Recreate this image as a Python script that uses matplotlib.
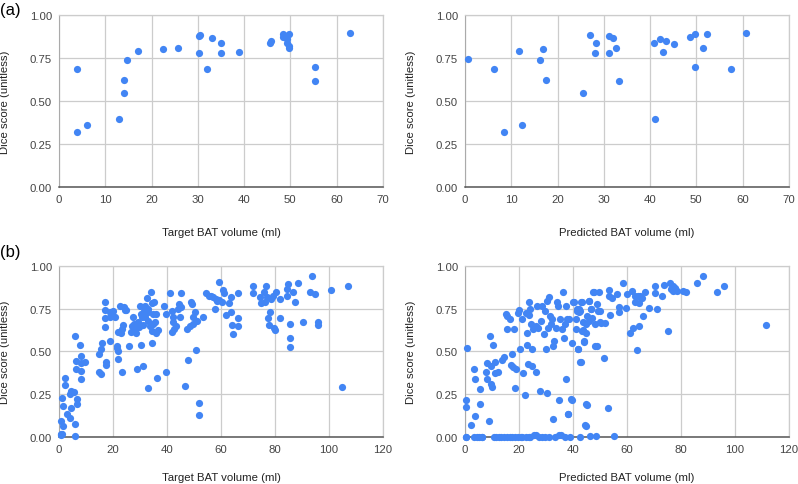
import numpy as np
import matplotlib
matplotlib.use('Agg')
import matplotlib.pyplot as plt

# (a) 31 cases
target_vol_a = [3.8, 3.8, 6.0, 13.0, 14.1, 14.1, 14.7, 17.0, 22.4, 25.7, 30.2, 30.4, 30.2,
                31.9, 33.1, 35.1, 35.1, 39.0, 45.6, 45.9, 48.5, 48.5, 49.0, 49.3, 49.7,
                49.3, 49.6, 49.8, 55.4, 55.4, 62.9]
target_dice_a = [0.685, 0.32, 0.36, 0.395, 0.62, 0.55, 0.74, 0.79, 0.805, 0.81, 0.876, 0.884,
                 0.78, 0.687, 0.865, 0.84, 0.78, 0.787, 0.836, 0.851, 0.89, 0.874, 0.88, 0.86,
                 0.89, 0.836, 0.82, 0.81, 0.696, 0.617, 0.894]

pred_vol_a = [0.7, 6.2, 8.4, 11.7, 12.3, 16.2, 16.8, 17.5, 25.5, 27.0, 28.1, 28.3, 31.1, 31.2,
              32.0, 32.7, 33.2, 40.9, 41.1, 42.2, 42.8, 43.5, 45.1, 48.7, 49.6, 49.8, 51.5,
              52.3, 57.4, 60.8]
pred_dice_a = [0.747, 0.685, 0.32, 0.79, 0.36, 0.74, 0.805, 0.62, 0.55, 0.884, 0.78, 0.84, 0.78,
               0.876, 0.865, 0.81, 0.617, 0.836, 0.395, 0.86, 0.787, 0.851, 0.832, 0.874, 0.696,
               0.89, 0.81, 0.89, 0.687, 0.894]

# (b) target volume vs dice
target_vol_b = [
    0.6, 0.6, 0.7, 1.0, 1.3, 1.5, 1.5, 2.4, 2.4, 2.8, 4.0, 4.0, 4.4, 4.6, 5.5, 5.9, 5.9, 5.9,
    6.3, 6.3, 6.5, 6.5, 7.8, 8.0, 8.0, 8.0, 8.0, 9.6,
    14.8, 15.4, 15.9, 15.0, 15.6, 17.0, 17.0, 17.0, 17.0, 17.4, 17.4, 18.8, 18.9, 19.8, 20.7,
    21.4, 21.6, 22.0, 21.7, 21.9, 22.6, 23.2, 23.6, 23.2, 24.1, 24.8, 25.9, 26.9, 27.3, 27.9,
    28.1, 28.8, 29.1, 30.0, 30.2, 30.9, 31.2, 31.6, 31.9, 32.5, 33.1, 33.1, 34.0, 33.7, 34.3,
    34.3, 34.9, 35.3, 35.6, 36.4, 36.5, 38.9,
    28.5, 29.5, 30.5, 32.0, 33.0, 34.5, 35.0, 36.0, 26.5, 31.0, 32.8, 35.8, 19.0, 23.0, 24.5, 20.0,
    39.5, 39.6, 41.1, 41.7, 42.1, 42.3, 42.6, 42.0, 43.2, 44.2, 44.6, 44.8, 45.1, 45.1, 46.7,
    47.5, 47.9, 48.5, 48.8, 49.1, 49.5, 49.7, 50.4, 50.7, 51.0, 51.7, 51.7, 53.2,
    54.5, 55.4, 56.3, 57.2, 57.9, 58.2, 58.5, 59.1, 59.4, 60.4, 60.9, 61.2, 61.8, 62.8, 63.7,
    63.9, 64.1, 64.6, 66.2, 66.3, 66.3, 71.9, 71.9, 74.4, 74.9, 76.0, 76.4, 76.6, 77.2, 77.6,
    77.8, 78.0, 78.5, 79.3, 79.7, 80.1, 80.3, 81.8, 81.8, 84.3, 84.4, 84.9, 85.5, 85.5, 85.5,
    86.5, 87.3, 88.7, 90.2, 92.9, 93.6, 94.8, 95.8, 95.9, 100.6, 104.7, 106.9]
target_dice_b = [
    0.097, 0.02, 0.016, 0.02, 0.227, 0.18, 0.068, 0.344, 0.307, 0.136, 0.113, 0.252, 0.272,
    0.169, 0.266, 0.078, 0.01, 0.592, 0.447, 0.398, 0.223, 0.194, 0.538, 0.476, 0.433, 0.388,
    0.34, 0.441,
    0.485, 0.515, 0.548, 0.379, 0.369, 0.786, 0.744, 0.695, 0.641, 0.441, 0.421, 0.728, 0.563,
    0.718, 0.699, 0.534, 0.518, 0.505, 0.616, 0.456, 0.767, 0.631, 0.654, 0.379, 0.757, 0.744,
    0.530, 0.650, 0.699, 0.660, 0.631, 0.400, 0.670, 0.767, 0.538, 0.699, 0.417, 0.738, 0.767,
    0.810, 0.728, 0.285, 0.845, 0.650, 0.621, 0.550, 0.718, 0.790, 0.674, 0.344, 0.627, 0.767,
    0.61, 0.64, 0.72, 0.70, 0.75, 0.78, 0.66, 0.72, 0.615, 0.655, 0.68, 0.61, 0.70, 0.605, 0.74,
    0.735,
    0.718, 0.379, 0.839, 0.738, 0.699, 0.670, 0.631, 0.616, 0.650, 0.748, 0.777, 0.699, 0.839,
    0.757, 0.297, 0.631, 0.449, 0.650, 0.786, 0.777, 0.660, 0.699, 0.732, 0.511, 0.680, 0.200,
    0.130, 0.699,
    0.840, 0.824, 0.821, 0.815, 0.750, 0.805, 0.795, 0.903, 0.799, 0.789, 0.860, 0.840, 0.711,
    0.780, 0.815, 0.731, 0.653, 0.604, 0.840, 0.698, 0.649, 0.883, 0.840, 0.815, 0.780, 0.848,
    0.789, 0.879, 0.815, 0.698, 0.653, 0.731, 0.805, 0.821, 0.639, 0.626, 0.848, 0.805, 0.698,
    0.867, 0.825, 0.893, 0.659, 0.581, 0.528, 0.848, 0.786, 0.899, 0.673, 0.848, 0.942, 0.834,
    0.669, 0.653, 0.860, 0.292, 0.883]

# (b) predicted volume vs dice
pred_vol_b = [
    # cases with dice ~0
    0.2, 0.5, 3.3, 4.6, 5.2, 6.2, 6.4, 10.7, 11.5, 12.5, 13.5, 14.5, 15.5, 16.5, 17.5, 18.5,
    19.5, 20.6, 21.0, 22.5, 23.6, 24.0, 25.6, 26.3, 27.5, 28.5, 29.5, 31.0, 33.5, 34.8, 35.4,
    37.0, 39.0, 42.5, 46.4, 48.5, 55.1,
    0.6, 0.5, 0.5, 2.3, 3.3, 3.6, 3.6, 5.6, 5.6, 7.7, 8.0, 8.3, 8.9, 9.3, 9.5, 9.8, 10.1, 10.5,
    11.0, 11.2, 12.2, 13.8, 14.4, 15.1, 15.4, 15.4, 16.7, 17.2, 17.5, 17.9, 18.1, 18.4, 18.8,
    19.6, 20.0, 20.2, 21.2, 21.6, 22.2, 22.5, 22.8, 23.1, 23.3, 23.7, 23.7, 24.1, 24.3, 24.7,
    24.9, 25.3, 26.2, 26.2, 26.5, 27.0, 27.8, 28.0, 28.6, 29.3, 29.6, 29.9, 30.5, 30.5, 30.7,
    31.1, 31.4, 31.7, 32.3, 32.7, 32.7, 33.0, 33.6, 34.0, 34.4, 34.8, 35.2, 36.0, 36.4, 36.7,
    36.9, 37.3, 37.3, 37.7, 38.3, 38.5, 39.5, 39.5, 40.1, 41.0, 41.2, 41.6, 42.0, 42.5, 42.8,
    43.5, 43.8, 44.1, 44.7, 45.1, 44.7, 45.9, 46.5, 47.5,
    38.2, 39.3, 40.3, 41.5, 41.9, 42.1, 42.4, 42.6, 43.1, 43.4, 43.6, 44.0, 44.3, 44.8, 44.9,
    45.2, 45.8, 46.1, 46.8, 47.1, 47.7, 48.0, 48.3, 48.9, 48.9, 49.3, 49.5, 49.9, 50.1, 50.5,
    51.4, 51.7, 53.0, 53.2, 53.5, 53.8, 54.4, 56.3, 56.9, 57.2, 58.4, 59.6, 60.0, 61.2, 61.8,
    62.4, 62.8, 63.1, 63.7, 64.0, 64.3, 64.5, 64.9, 65.5, 65.8, 66.8, 68.2, 70.5, 70.5, 71.1,
    72.9, 73.8, 75.1, 76.0, 76.4, 76.9, 77.2, 77.8,
    77.9, 78.5, 80.6, 81.8, 85.9, 88.3, 93.5, 96.1, 111.4]
pred_dice_b = [
    0.0, 0.0, 0.0, 0.0, 0.0, 0.0, 0.0, 0.0, 0.0, 0.0, 0.0, 0.0, 0.0, 0.0, 0.0, 0.0,
    0.0, 0.0, 0.0, 0.0, 0.0, 0.0, 0.016, 0.012, 0.0, 0.0, 0.0, 0.0, 0.0, 0.012, 0.016,
    0.0, 0.0, 0.0, 0.01, 0.01, 0.01,
    0.522, 0.220, 0.177, 0.074, 0.396, 0.341, 0.127, 0.283, 0.195, 0.380, 0.435, 0.337, 0.094,
    0.591, 0.415, 0.308, 0.294, 0.536, 0.439, 0.372, 0.380, 0.450, 0.470, 0.717, 0.704, 0.634,
    0.692, 0.419, 0.483, 0.411, 0.634, 0.289, 0.400, 0.723, 0.743, 0.513, 0.688, 0.376, 0.244,
    0.727, 0.536, 0.610, 0.425, 0.786, 0.715, 0.747, 0.659, 0.415, 0.513, 0.630, 0.649, 0.380,
    0.766, 0.639, 0.269, 0.678, 0.766, 0.600, 0.737, 0.513, 0.259, 0.795, 0.639, 0.815, 0.704,
    0.659, 0.688, 0.532, 0.107, 0.561, 0.639, 0.786, 0.766, 0.216, 0.688, 0.630, 0.848, 0.581,
    0.659, 0.766, 0.337, 0.692, 0.133, 0.688, 0.548, 0.216, 0.789, 0.630, 0.692, 0.747, 0.513,
    0.737, 0.439, 0.786, 0.626, 0.556, 0.610, 0.191, 0.064, 0.795, 0.747, 0.844,
    0.136, 0.223, 0.790, 0.738, 0.515, 0.748, 0.728, 0.441, 0.790, 0.621, 0.670, 0.563, 0.072,
    0.194, 0.660, 0.709, 0.796, 0.680, 0.748, 0.693, 0.845, 0.660, 0.534, 0.530, 0.777, 0.738,
    0.845, 0.670, 0.738, 0.666, 0.460, 0.666, 0.169, 0.858, 0.825, 0.713, 0.810, 0.835, 0.757,
    0.732, 0.899, 0.751, 0.835, 0.608, 0.854, 0.635, 0.790, 0.825, 0.511, 0.825, 0.782, 0.650,
    0.821, 0.810, 0.705, 0.849, 0.751, 0.880, 0.839, 0.748, 0.825, 0.887, 0.621, 0.899, 0.864,
    0.883, 0.854, 0.868,
    0.864, 0.854, 0.854, 0.849, 0.899, 0.942, 0.849, 0.883, 0.654]

POINT_COLOR = '#4285F4'
GRID_COLOR = '#cccccc'

plt.rcParams['font.family'] = ['Liberation Sans', 'DejaVu Sans']


def style_panel(ax, x, y, xmax, xstep, xlabel, xlabel_y):
    ax.scatter(x, y, s=27, color=POINT_COLOR, linewidths=0, zorder=3, clip_on=False)
    ax.set_xlim(0, xmax)
    ax.set_ylim(0, 1)
    ax.set_xticks(np.arange(0, xmax + 1, xstep))
    ax.set_yticks([0, 0.25, 0.5, 0.75, 1.0])
    ax.set_yticklabels(['0.00', '0.25', '0.50', '0.75', '1.00'])
    ax.grid(True, color=GRID_COLOR, linewidth=0.9)
    ax.set_axisbelow(True)
    ax.tick_params(length=0, labelsize=8.2, labelcolor='#444444', pad=5)
    for side in ['top', 'right']:
        ax.spines[side].set_color(GRID_COLOR)
        ax.spines[side].set_linewidth(0.9)
    ax.spines['left'].set_color('#aaaaaa')
    ax.spines['bottom'].set_color('#555555')
    ax.spines['bottom'].set_linewidth(1.1)
    ax.set_xlabel(xlabel, fontsize=8.2, color='#222222')
    ax.set_ylabel('Dice score (unitless)', fontsize=8.2, color='#222222')
    ax.xaxis.set_label_coords(0.5, xlabel_y)
    ax.yaxis.set_label_coords(-0.15, 0.5)


fig = plt.figure(figsize=(7.98, 4.85), dpi=100)

ax1 = fig.add_axes([0.0739, 0.6117, 0.406, 0.3553])
ax2 = fig.add_axes([0.5827, 0.6117, 0.406, 0.3553])
ax3 = fig.add_axes([0.0739, 0.0963, 0.406, 0.3538])
ax4 = fig.add_axes([0.5827, 0.0963, 0.406, 0.3538])

style_panel(ax1, target_vol_a, target_dice_a, 70, 10, 'Target BAT volume (ml)', -0.23)
style_panel(ax2, pred_vol_a, pred_dice_a, 70, 10, 'Predicted BAT volume (ml)', -0.23)
style_panel(ax3, target_vol_b, target_dice_b, 120, 20, 'Target BAT volume (ml)', -0.205)
style_panel(ax4, pred_vol_b, pred_dice_b, 120, 20, 'Predicted BAT volume (ml)', -0.205)

fig.text(0.0, 1 - 11 / 485, '(a)', fontsize=12, va='center', ha='left')
fig.text(0.0, 1 - 253 / 485, '(b)', fontsize=12, va='center', ha='left')

fig.savefig('out.png', dpi=100)
plt.close()
